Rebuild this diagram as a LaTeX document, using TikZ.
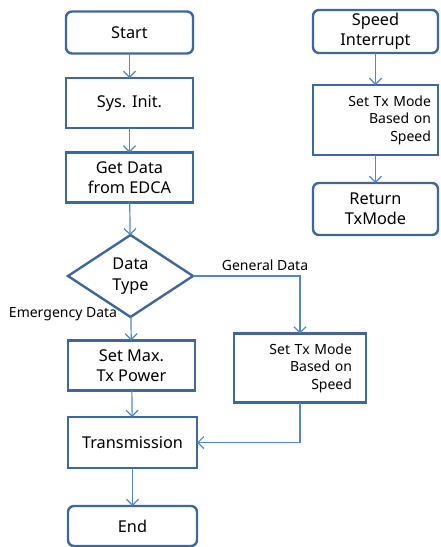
\documentclass[tikz,border=0pt]{standalone}
\usepackage{fontspec}
\setmainfont{Noto Sans}
\usetikzlibrary{shapes.geometric,arrows.meta}
\definecolor{boxc}{HTML}{41679A}
\definecolor{arrc}{HTML}{5286C4}
\begin{document}
\begin{tikzpicture}[x=1pt,y=-1pt,
  every node/.style={inner sep=0pt, outer sep=0pt},
  base/.style={draw=boxc, line width=2.4pt, fill=white, align=center, font=\fontsize{16.3}{20.5}\selectfont},
  rbox/.style={base, rectangle, rounded corners=6pt},
  sbox/.style={base, rectangle},
  tbox/.style={draw=boxc, line width=2.4pt, fill=white, align=right, font=\fontsize{14}{17.5}\selectfont},
  lbl/.style={font=\fontsize{14}{15}\selectfont},
  conn/.style={draw=arrc, line width=1.2pt, -{Straight Barb[length=6pt,width=12pt,line width=1.2pt]}}]
\useasboundingbox (0,0) rectangle (440,547);
% left column
\node[rbox, minimum width=127pt, minimum height=42pt] (start) at (129.5,32.5) {Start};
\node[sbox, minimum width=127pt, minimum height=50pt] (init) at (129.5,103) {Sys. Init.};
\node[sbox, minimum width=127pt, minimum height=50pt] (get) at (129.5,177.5) {Get Data\\from EDCA};
\node[base, diamond, minimum width=125pt, minimum height=82pt] (dt) at (130.5,276) {Data\\Type};
\node[sbox, minimum width=127pt, minimum height=50pt] (pow) at (131.5,365.5) {Set Max.\\Tx Power};
\node[sbox, minimum width=129pt, minimum height=51pt] (tx) at (132.5,442.5) {Transmission};
\node[rbox, minimum width=129pt, minimum height=40pt] (end) at (132.5,526) {End};
\node[tbox, text width=104pt, inner xsep=14pt, minimum height=69pt] (mode) at (300,368) {Set Tx Mode\\Based on\\Speed};
% right column
\node[rbox, minimum width=125pt, minimum height=43pt] (si) at (375.5,31.5) {Speed\\Interrupt};
\node[tbox, text width=111pt, inner xsep=7pt, minimum height=70pt] (rmode) at (375.5,120) {Set Tx Mode\\Based on\\Speed};
\node[rbox, minimum width=125pt, minimum height=52pt] (ret) at (375.5,209) {Return\\TxMode};
% labels
\node[lbl] (lgen) at (265,265) {General Data};
\node[lbl] (lemg) at (63,314) {Emergency Data};
% connectors
\draw[conn] (start) -- (init);
\draw[conn] (init) -- (get);
\draw[conn] (get) -- (dt);
\draw[conn] (dt) -- (pow);
\draw[conn] (pow) -- (tx);
\draw[conn] (tx) -- (end);
\draw[conn] (dt.east) -| (mode.north);
\draw[conn] (mode.south) |- (tx.east);
\draw[conn] (si) -- (rmode);
\draw[conn] (rmode) -- (ret);
\end{tikzpicture}
\end{document}
